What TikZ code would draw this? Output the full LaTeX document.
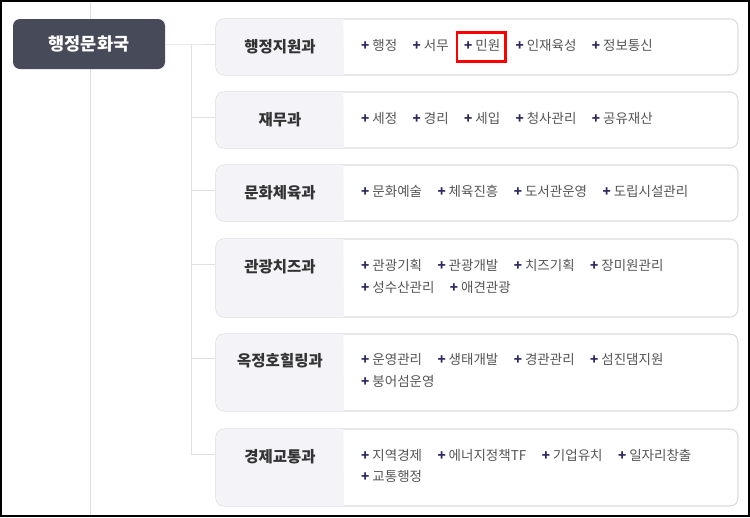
\documentclass[tikz,border=0pt]{standalone}
\usepackage{fontspec}
\setmainfont{Noto Sans CJK KR}
\usepackage{tikz}
\usetikzlibrary{positioning, calc}

\definecolor{rootfill}{HTML}{474A59}
\definecolor{boxline}{HTML}{DCDCE1}
\definecolor{titlebg}{HTML}{F4F4F8}
\definecolor{titletext}{HTML}{333333}
\definecolor{itemtext}{HTML}{555555}
\definecolor{plusc}{HTML}{2B2760}
\definecolor{linkc}{HTML}{E0E0E0}

\newcommand{\itemplus}{{\color{plusc}\bfseries +}\hspace{3pt}}

\begin{document}
\begin{tikzpicture}[x=1pt, y=-1pt,
    rootbox/.style={draw=none, fill=rootfill, rounded corners=7pt, minimum width=152pt, minimum height=50pt, text=white, font=\fontsize{17.5}{19}\selectfont\bfseries},
    divbox/.style={draw=boxline, line width=1.1pt, fill=white, rounded corners=8pt, minimum width=522pt},
    divtitle/.style={text=titletext, font=\fontsize{15.5}{17}\selectfont\bfseries, inner sep=0pt},
    item/.style={text=itemtext, font=\fontsize{13.5}{15}\selectfont, inner sep=0pt, text height=10pt, text depth=2.5pt},
    link/.style={draw=linkc, line width=1pt},
    node distance=15pt]

  \useasboundingbox (0,0) rectangle (750,517);
  \draw[link] (90,0) -- (90,517);

  % root
  \node (root) [rootbox] at (89,44) {행정문화국};
  \coordinate (fork) at (191,44);

  % division boxes
  \node (d1) [divbox, minimum height=56pt] at (477,47) {};
  \node (d2) [divbox, minimum height=56pt] at (477,120) {};
  \node (d3) [divbox, minimum height=56pt] at (477,193) {};
  \node (d4) [divbox, minimum height=78pt] at (477,278) {};
  \node (d5) [divbox, minimum height=77pt] at (477,372.5) {};
  \node (d6) [divbox, minimum height=77pt] at (477,467.5) {};

  \foreach \d in {d1,d2,d3,d4,d5,d6}
    \fill[titlebg, rounded corners=8pt] ([xshift=-0.6pt,yshift=-0.6pt]\d.north west -| 344,0) -- ([xshift=0.6pt,yshift=-0.6pt]\d.north west) -- ([xshift=0.6pt,yshift=0.6pt]\d.south west) [sharp corners] -- ([yshift=0.6pt]\d.south west -| 344,0) -- cycle;

  \node (t1) [divtitle] at (280,47) {행정지원과};
  \node (t2) [divtitle] at (280,120) {재무과};
  \node (t3) [divtitle] at (280,193) {문화체육과};
  \node (t4) [divtitle] at (280,267) {관광치즈과};
  \node (t5) [divtitle] at (280,361) {옥정호힐링과};
  \node (t6) [divtitle] at (280,457) {경제교통과};

  % connectors
  \draw[link] (root.east) -- (fork) -- ([yshift=3pt]t1 -| d1.west);
  \foreach \i in {2,...,6}
    \draw[link] (fork) |- ([yshift=3pt]t\i -| d\i.west);

  % items
  \node (i11) [item, anchor=west] at (361,47) {\itemplus 행정};
  \node (i12) [item, right=of i11] {\itemplus 서무};
  \node (i13) [item, right=of i12] {\itemplus 민원};
  \node (i14) [item, right=of i13] {\itemplus 인재육성};
  \node (i15) [item, right=of i14] {\itemplus 정보통신};

  \node (i21) [item, anchor=west] at (361,120) {\itemplus 세정};
  \node (i22) [item, right=of i21] {\itemplus 경리};
  \node (i23) [item, right=of i22] {\itemplus 세입};
  \node (i24) [item, right=of i23] {\itemplus 청사관리};
  \node (i25) [item, right=of i24] {\itemplus 공유재산};

  \node (i31) [item, anchor=west] at (361,193) {\itemplus 문화예술};
  \node (i32) [item, right=of i31] {\itemplus 체육진흥};
  \node (i33) [item, right=of i32] {\itemplus 도서관운영};
  \node (i34) [item, right=of i33] {\itemplus 도립시설관리};

  \node (i41) [item, anchor=west] at (361,267) {\itemplus 관광기획};
  \node (i42) [item, right=of i41] {\itemplus 관광개발};
  \node (i43) [item, right=of i42] {\itemplus 치즈기획};
  \node (i44) [item, right=of i43] {\itemplus 장미원관리};
  \node (i45) [item, anchor=west] at (361,289) {\itemplus 성수산관리};
  \node (i46) [item, right=of i45] {\itemplus 애견관광};

  \node (i51) [item, anchor=west] at (361,361) {\itemplus 운영관리};
  \node (i52) [item, right=of i51] {\itemplus 생태개발};
  \node (i53) [item, right=of i52] {\itemplus 경관관리};
  \node (i54) [item, right=of i53] {\itemplus 섬진댐지원};
  \node (i55) [item, anchor=west] at (361,383) {\itemplus 붕어섬운영};

  \node (i61) [item, anchor=west] at (361,457) {\itemplus 지역경제};
  \node (i62) [item, right=of i61] {\itemplus 에너지정책TF};
  \node (i63) [item, right=of i62] {\itemplus 기업유치};
  \node (i64) [item, right=of i63] {\itemplus 일자리창출};
  \node (i65) [item, anchor=west] at (361,478) {\itemplus 교통행정};

  % highlight
  \draw[red, line width=2.5pt] ([xshift=-7pt,yshift=8pt]i13.north west) rectangle ([xshift=5pt,yshift=-8pt]i13.south east);

  % frame
  \draw[black, line width=2pt] (1,1) rectangle (749,516);
\end{tikzpicture}
\end{document}
